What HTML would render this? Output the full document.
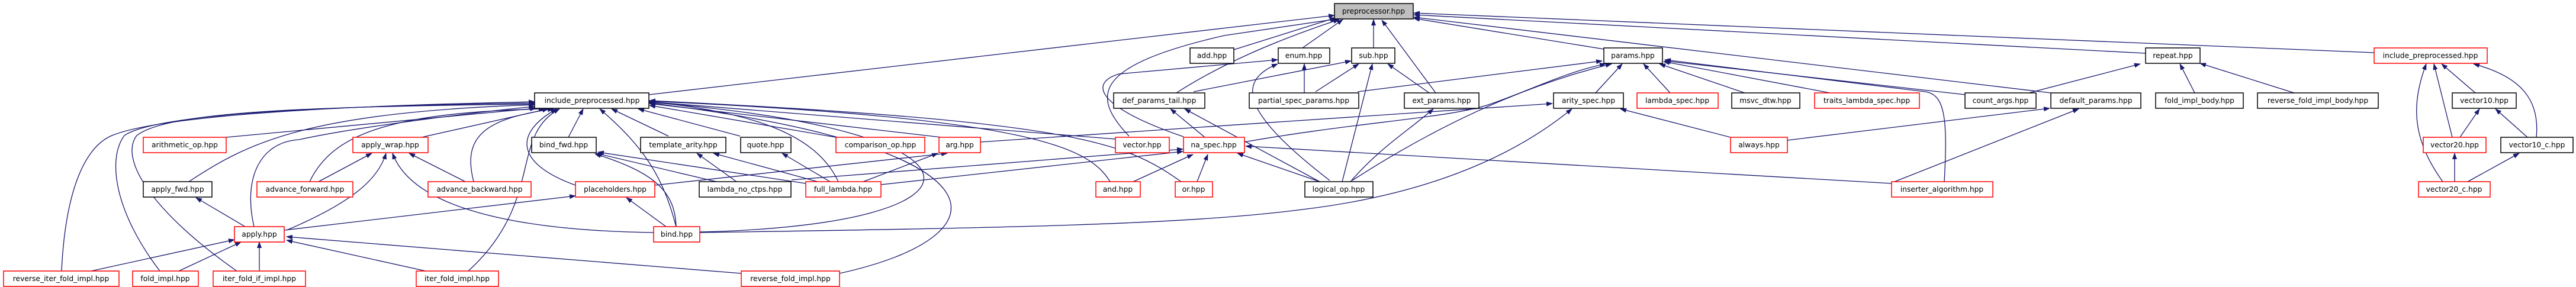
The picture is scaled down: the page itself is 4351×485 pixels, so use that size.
<!DOCTYPE html>
<html><head><meta charset="utf-8"><style>
html,body{margin:0;padding:0;background:#fff;}
svg{display:block;}
text{font-family:"DejaVu Sans","Liberation Sans",sans-serif;font-size:12.3px;fill:#000;text-anchor:middle;}
.e{fill:none;stroke:#191970;stroke-width:1.3;marker-end:url(#a);}
.b{fill:#fff;stroke:#000;stroke-width:1.5;}
.r{fill:#fff;stroke:#ff0000;stroke-width:1.5;}
.g{fill:#bfbfbf;stroke:#000;stroke-width:1.5;}
</style></head><body>
<svg width="4351" height="485" viewBox="0 0 4351 485" xmlns="http://www.w3.org/2000/svg">
<defs><marker id="a" markerWidth="11" markerHeight="8" refX="10" refY="4" orient="auto" markerUnits="userSpaceOnUse"><path d="M0,0 L11,4 L0,8 z" fill="#191970"/></marker></defs>
<g>
<path class="e" d="M1096,160 L2254,26"/>
<path class="e" d="M2084,84 L2256,30"/>
<path class="e" d="M2200,81 L2268,33"/>
<path class="e" d="M1987,157 C2060,110 2150,70 2262,33"/>
<path class="e" d="M1907,230 C1840,160 1850,110 2068,60 L2258,32"/>
<path class="e" d="M2320,81 L2320,33"/>
<path class="e" d="M2425,157 L2334,34"/>
<path class="e" d="M2709,83 L2388,31"/>
<path class="e" d="M3464,157 L2388,29"/>
<path class="e" d="M3624,90 L2388,25"/>
<path class="e" d="M4010,89 L2388,22"/>
<path class="e" d="M1999,231 C1850,180 1840,140 1890,125 L2158,101"/>
<path class="e" d="M2246,305 C2110,200 2080,140 2158,108"/>
<path class="e" d="M2203,157 L2203,108"/>
<path class="e" d="M2222,155 L2295,108"/>
<path class="e" d="M2016,155 L2282,103"/>
<path class="e" d="M2267,307 L2318,108"/>
<path class="e" d="M2414,157 L2344,108"/>
<path class="e" d="M2281,307 C2330,250 2380,220 2421,184"/>
<path class="e" d="M2293,155 L2706,103"/>
<path class="e" d="M2102,240 C2300,205 2450,200 2520,175 S2650,120 2712,108"/>
<path class="e" d="M2284,305 C2400,230 2550,150 2722,108"/>
<path class="e" d="M2695,157 L2740,108"/>
<path class="e" d="M2821,157 L2776,108"/>
<path class="e" d="M2947,157 L2803,108"/>
<path class="e" d="M3091,157 L2810,104"/>
<path class="e" d="M3284,307 C3290,200 3285,160 3252,155 L2812,101"/>
<path class="e" d="M3320,160 L2812,103"/>
<path class="e" d="M1656,240 L2622,175"/>
<path class="e" d="M1182,393 C1700,385 2000,380 2200,354 C2400,330 2550,270 2655,184"/>
<path class="e" d="M2923,232 L2737,184"/>
<path class="e" d="M3019,237 L3462,183"/>
<path class="e" d="M3200,307 L3511,184"/>
<path class="e" d="M3427,157 L3615,108"/>
<path class="e" d="M3707,157 L3682,108"/>
<path class="e" d="M3875,157 L3716,107"/>
<path class="e" d="M4181,157 L4124,108"/>
<path class="e" d="M4142,232 L4111,108"/>
<path class="e" d="M4126,307 C4070,230 4075,170 4098,108"/>
<path class="e" d="M4284,232 C4290,170 4260,130 4178,108"/>
<path class="e" d="M4155,232 L4188,184"/>
<path class="e" d="M4269,232 L4215,184"/>
<path class="e" d="M4146,307 L4146,259"/>
<path class="e" d="M4168,307 L4255,259"/>
<path class="e" d="M2035,232 L1977,184"/>
<path class="e" d="M2229,307 L2001,184"/>
<path class="e" d="M2229,307 L2090,259"/>
<path class="e" d="M1914,307 L2015,261"/>
<path class="e" d="M2022,307 L2040,261"/>
<path class="e" d="M1488,312 L1998,256"/>
<path class="e" d="M1337,304 L1998,252"/>
<path class="e" d="M3195,310 L2104,247"/>
<path class="e" d="M1458,307 L1584,259"/>
<path class="e" d="M1106,313 L1600,259"/>
<path class="e" d="M1402,307 L1321,259"/>
<path class="e" d="M1381,307 L1205,259"/>
<path class="e" d="M1244,307 L1177,259"/>
<path class="e" d="M1210,307 L1007,259"/>
<path class="e" d="M1361,310 L1010,257"/>
<path class="e" d="M1142,383 C1140,320 1100,290 1005,260"/>
<path class="e" d="M1416,307 C1380,230 1280,190 1097,172"/>
<path class="e" d="M1129,230 L1033,184"/>
<path class="e" d="M1250,230 L1078,184"/>
<path class="e" d="M1412,232 L1097,178"/>
<path class="e" d="M1590,232 L1097,175"/>
<path class="e" d="M1884,235 L1097,172"/>
<path class="e" d="M1875,307 C1840,250 1750,200 1097,171"/>
<path class="e" d="M1995,307 C1900,240 1820,205 1097,170"/>
<path class="e" d="M1418,462 C1700,400 1720,250 1097,174"/>
<path class="e" d="M1182,392 C1700,380 1700,220 1097,173"/>
<path class="e" d="M1142,383 C1120,300 1090,250 1013,184"/>
<path class="e" d="M972,313 C880,280 860,230 940,184"/>
<path class="e" d="M382,232 L905,183"/>
<path class="e" d="M712,232 L926,184"/>
<path class="e" d="M960,232 L985,184"/>
<path class="e" d="M319,307 C420,240 520,190 903,177"/>
<path class="e" d="M523,307 C560,230 650,190 920,184"/>
<path class="e" d="M800,307 C780,230 820,200 935,184"/>
<path class="e" d="M429,383 C410,300 440,240 505,236 C600,215 800,190 903,180"/>
<path class="e" d="M104,458 C110,330 140,250 189,229 C260,200 500,180 903,172"/>
<path class="e" d="M270,458 C195,360 180,270 210,229 C260,195 500,180 903,174"/>
<path class="e" d="M400,458 C260,360 200,270 231,229 C280,190 500,180 903,176"/>
<path class="e" d="M791,458 C920,340 860,230 945,184"/>
<path class="e" d="M538,307 L628,259"/>
<path class="e" d="M786,307 L691,259"/>
<path class="e" d="M484,389 C600,340 640,300 652,259"/>
<path class="e" d="M1104,393 C900,390 700,360 663,259"/>
<path class="e" d="M414,383 L331,334"/>
<path class="e" d="M480,389 L972,331"/>
<path class="e" d="M1125,383 L1058,334"/>
<path class="e" d="M154,458 L396,405"/>
<path class="e" d="M302,458 L407,409"/>
<path class="e" d="M438,458 L438,409"/>
<path class="e" d="M719,458 L484,406"/>
<path class="e" d="M1252,462 L484,400"/>
</g>
<g>
<rect class="g" x="2254" y="6" width="133" height="26"/><text x="2320" y="23">preprocessor.hpp</text>
<rect class="b" x="2010" y="81" width="74" height="26"/><text x="2047" y="98">add.hpp</text>
<rect class="b" x="2159" y="81" width="87" height="26"/><text x="2202" y="98">enum.hpp</text>
<rect class="b" x="2283" y="81" width="73" height="26"/><text x="2320" y="98">sub.hpp</text>
<rect class="b" x="2709" y="81" width="99" height="26"/><text x="2758" y="98">params.hpp</text>
<rect class="b" x="3624" y="81" width="92" height="26"/><text x="3670" y="98">repeat.hpp</text>
<rect class="r" x="4010" y="81" width="191" height="26"/><text x="4105" y="98">include_preprocessed.hpp</text>
<rect class="b" x="903" y="157" width="193" height="26"/><text x="1000" y="174">include_preprocessed.hpp</text>
<rect class="b" x="1881" y="157" width="154" height="26"/><text x="1958" y="174">def_params_tail.hpp</text>
<rect class="b" x="2110" y="157" width="185" height="26"/><text x="2202" y="174">partial_spec_params.hpp</text>
<rect class="b" x="2372" y="157" width="126" height="26"/><text x="2435" y="174">ext_params.hpp</text>
<rect class="b" x="2624" y="157" width="118" height="26"/><text x="2683" y="174">arity_spec.hpp</text>
<rect class="r" x="2765" y="157" width="137" height="26"/><text x="2833" y="174">lambda_spec.hpp</text>
<rect class="b" x="2925" y="157" width="115" height="26"/><text x="2982" y="174">msvc_dtw.hpp</text>
<rect class="r" x="3065" y="157" width="177" height="26"/><text x="3153" y="174">traits_lambda_spec.hpp</text>
<rect class="b" x="3319" y="157" width="120" height="26"/><text x="3379" y="174">count_args.hpp</text>
<rect class="b" x="3464" y="157" width="152" height="26"/><text x="3540" y="174">default_params.hpp</text>
<rect class="b" x="3641" y="157" width="148" height="26"/><text x="3715" y="174">fold_impl_body.hpp</text>
<rect class="b" x="3813" y="157" width="204" height="26"/><text x="3915" y="174">reverse_fold_impl_body.hpp</text>
<rect class="b" x="4142" y="157" width="108" height="26"/><text x="4196" y="174">vector10.hpp</text>
<rect class="r" x="242" y="232" width="140" height="26"/><text x="312" y="249">arithmetic_op.hpp</text>
<rect class="r" x="596" y="232" width="127" height="26"/><text x="659" y="249">apply_wrap.hpp</text>
<rect class="b" x="898" y="232" width="109" height="26"/><text x="952" y="249">bind_fwd.hpp</text>
<rect class="b" x="1082" y="232" width="144" height="26"/><text x="1154" y="249">template_arity.hpp</text>
<rect class="b" x="1251" y="232" width="85" height="26"/><text x="1293" y="249">quote.hpp</text>
<rect class="r" x="1412" y="232" width="150" height="26"/><text x="1487" y="249">comparison_op.hpp</text>
<rect class="r" x="1586" y="232" width="70" height="26"/><text x="1621" y="249">arg.hpp</text>
<rect class="r" x="1884" y="232" width="91" height="26"/><text x="1929" y="249">vector.hpp</text>
<rect class="r" x="1999" y="232" width="103" height="26"/><text x="2050" y="249">na_spec.hpp</text>
<rect class="r" x="2923" y="232" width="96" height="26"/><text x="2971" y="249">always.hpp</text>
<rect class="r" x="4093" y="232" width="106" height="26"/><text x="4146" y="249">vector20.hpp</text>
<rect class="b" x="4224" y="232" width="122" height="26"/><text x="4285" y="249">vector10_c.hpp</text>
<rect class="b" x="242" y="307" width="116" height="26"/><text x="300" y="324">apply_fwd.hpp</text>
<rect class="r" x="434" y="307" width="162" height="26"/><text x="515" y="324">advance_forward.hpp</text>
<rect class="r" x="723" y="307" width="174" height="26"/><text x="810" y="324">advance_backward.hpp</text>
<rect class="r" x="972" y="307" width="134" height="26"/><text x="1039" y="324">placeholders.hpp</text>
<rect class="b" x="1181" y="307" width="155" height="26"/><text x="1258" y="324">lambda_no_ctps.hpp</text>
<rect class="r" x="1361" y="307" width="127" height="26"/><text x="1424" y="324">full_lambda.hpp</text>
<rect class="r" x="1851" y="307" width="75" height="26"/><text x="1888" y="324">and.hpp</text>
<rect class="r" x="1985" y="307" width="63" height="26"/><text x="2016" y="324">or.hpp</text>
<rect class="b" x="2204" y="307" width="115" height="26"/><text x="2261" y="324">logical_op.hpp</text>
<rect class="r" x="3195" y="307" width="171" height="26"/><text x="3280" y="324">inserter_algorithm.hpp</text>
<rect class="r" x="4085" y="307" width="121" height="26"/><text x="4145" y="324">vector20_c.hpp</text>
<rect class="r" x="396" y="383" width="84" height="26"/><text x="438" y="400">apply.hpp</text>
<rect class="r" x="1104" y="383" width="78" height="26"/><text x="1143" y="400">bind.hpp</text>
<rect class="r" x="6" y="458" width="195" height="26"/><text x="103" y="475">reverse_iter_fold_impl.hpp</text>
<rect class="r" x="224" y="458" width="111" height="26"/><text x="279" y="475">fold_impl.hpp</text>
<rect class="r" x="360" y="458" width="156" height="26"/><text x="438" y="475">iter_fold_if_impl.hpp</text>
<rect class="r" x="703" y="458" width="139" height="26"/><text x="772" y="475">iter_fold_impl.hpp</text>
<rect class="r" x="1252" y="458" width="166" height="26"/><text x="1335" y="475">reverse_fold_impl.hpp</text>
</g>
</svg>
</body></html>
